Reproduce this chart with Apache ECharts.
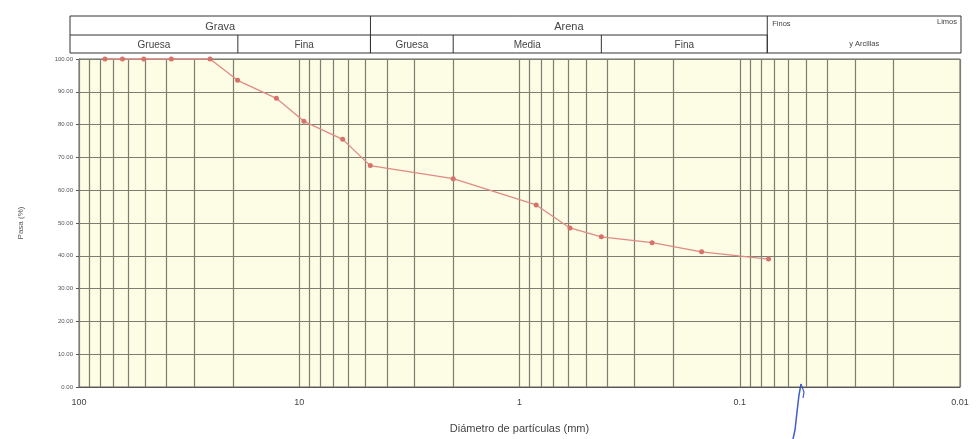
<!DOCTYPE html>
<html><head><meta charset="utf-8">
<script src="https://cdn.jsdelivr.net/npm/echarts@6/dist/echarts.min.js"></script>
<style>html,body{margin:0;background:#fff}#c{width:980px;height:439px}</style>
</head><body><div id="c"></div>
<script>
// Sieve diameters (mm) and percent passing
const diameters = [76.2, 63.5, 50.8, 38.1, 25.4, 19.05, 12.7, 9.525, 6.35, 4.76, 2.0, 0.84, 0.59, 0.425, 0.25, 0.149, 0.074];
const passing   = [100, 100, 100, 100, 100, 93.5, 88, 81, 75.5, 67.5, 63.5, 55.5, 48.5, 45.8, 44, 41.2, 39];
const xTickLabels = [100, 10, 1, 0.1, 0.01];
const mainClasses = [
  {name: 'Grava', from: 100, to: 4.75},
  {name: 'Arena', from: 4.75, to: 0.075}
];
const subClasses = [
  {name: 'Gruesa', from: 100, to: 19},
  {name: 'Fina', from: 19, to: 4.75},
  {name: 'Gruesa', from: 4.75, to: 2},
  {name: 'Media', from: 2, to: 0.425},
  {name: 'Fina', from: 0.425, to: 0.075}
];
const finesBound = 0.075;

// log grid positions (1..9 x decade)
const vGrid = [];
[10, 1, 0.1, 0.01].forEach(d => { for (let k = 1; k <= 9; k++) vGrid.push(+(k * d).toPrecision(3)); });
vGrid.push(100);

const chart = echarts.init(document.getElementById('c'));
const gridColor = '#7b7e70';
chart.setOption({
  animation: false,
  backgroundColor: '#ffffff',
  grid: {left: 79, right: 20, top: 59, bottom: 38, show: true, backgroundColor: '#fdfce4', borderColor: '#666', borderWidth: 1},
  xAxis: {
    type: 'log', logBase: 10, min: 0.01, max: 100, inverse: true,
    name: 'Diámetro de partículas (mm)', nameLocation: 'middle', nameGap: 36,
    nameTextStyle: {fontFamily: 'Liberation Sans', fontSize: 11, color: '#444'},
    axisLine: {lineStyle: {color: '#555'}},
    axisTick: {show: false},
    splitLine: {show: false},
    axisLabel: {fontFamily: 'Liberation Sans', fontSize: 9, color: '#444', margin: 11,
      formatter: v => xTickLabels.some(t => Math.abs(t - v) / t < 1e-6) ? String(v) : ''}
  },
  yAxis: {
    type: 'value', min: 0, max: 100, interval: 10,
    name: 'Pasa (%)', nameLocation: 'middle', nameGap: 54, nameRotate: 90,
    nameTextStyle: {fontFamily: 'Liberation Sans', fontSize: 8, color: '#555'},
    axisLine: {show: true, lineStyle: {color: '#555'}},
    axisTick: {show: true, length: 3, lineStyle: {color: '#555'}},
    axisLabel: {fontFamily: 'Liberation Sans', fontSize: 6, color: '#555', margin: 6, formatter: v => v.toFixed(2)},
    splitLine: {show: true, lineStyle: {color: gridColor, width: 1.2}}
  },
  series: [{
    type: 'line',
    data: diameters.map((d, i) => [d, passing[i]]),
    symbol: 'circle', symbolSize: 5,
    itemStyle: {color: '#d9716b'},
    lineStyle: {color: '#e08a84', width: 1.3},
    z: 5,
    markLine: {
      silent: true, symbol: ['none', 'none'], label: {show: false},
      lineStyle: {color: gridColor, width: 1.2, type: 'solid'},
      data: vGrid.map(v => ({xAxis: v}))
    }
  }]
});

function px(x, y) { return chart.convertToPixel({xAxisIndex: 0, yAxisIndex: 0}, [x, y]); }
const hTop = 16, hMid = 35, hBot = 53;
const leftEdge = px(100, 0)[0] - 9, rightEdge = px(0.01, 0)[0] + 1;
const xOf = v => v >= 100 ? leftEdge : (v <= 0.01 ? rightEdge : px(v, 0)[0]);
const g = [];
const ls = {stroke: '#333', lineWidth: 1};
const hl = (x1, x2, y) => g.push({type: 'line', shape: {x1, y1: y, x2, y2: y}, style: ls, silent: true});
const vl = (x, y1, y2) => g.push({type: 'line', shape: {x1: x, y1, x2: x, y2}, style: ls, silent: true});
const txt = (t, x, y, size, align) => g.push({type: 'text', x, y, silent: true,
  style: {text: t, fontFamily: 'Liberation Sans', fontSize: size, fill: '#444', align: align || 'center', verticalAlign: 'middle'}});
hl(leftEdge, rightEdge, hTop); hl(leftEdge, xOf(finesBound), hMid); hl(leftEdge, rightEdge, hBot);
vl(leftEdge, hTop, hBot); vl(rightEdge, hTop, hBot);
mainClasses.forEach(c => { vl(xOf(c.to), hTop, hBot); txt(c.name, (xOf(c.from) + xOf(c.to)) / 2, (hTop + hMid) / 2 + 1, 11); });
subClasses.forEach(c => { vl(xOf(c.to), hMid, hBot); txt(c.name, (xOf(c.from) + xOf(c.to)) / 2, (hMid + hBot) / 2 + 1, 10); });
const fx = xOf(finesBound);
txt('Finos', fx + 5, hTop + 8, 7.5, 'left');
txt('Limos', rightEdge - 4, hTop + 6, 7.5, 'right');
txt('y Arcillas', (fx + rightEdge) / 2, hBot - 9, 7.5);
// blue pen stroke on the scan
g.push({type: 'polyline', silent: true, shape: {points: [[801, 384], [799, 395], [797, 412], [795, 430], [793, 439]]},
  style: {stroke: '#3f5bd0', lineWidth: 1.5, fill: 'none'}});
g.push({type: 'polyline', silent: true, shape: {points: [[801, 384], [804, 392], [803, 398]]},
  style: {stroke: '#3f5bd0', lineWidth: 1.2, fill: 'none'}});
chart.setOption({graphic: g});
</script></body></html>
